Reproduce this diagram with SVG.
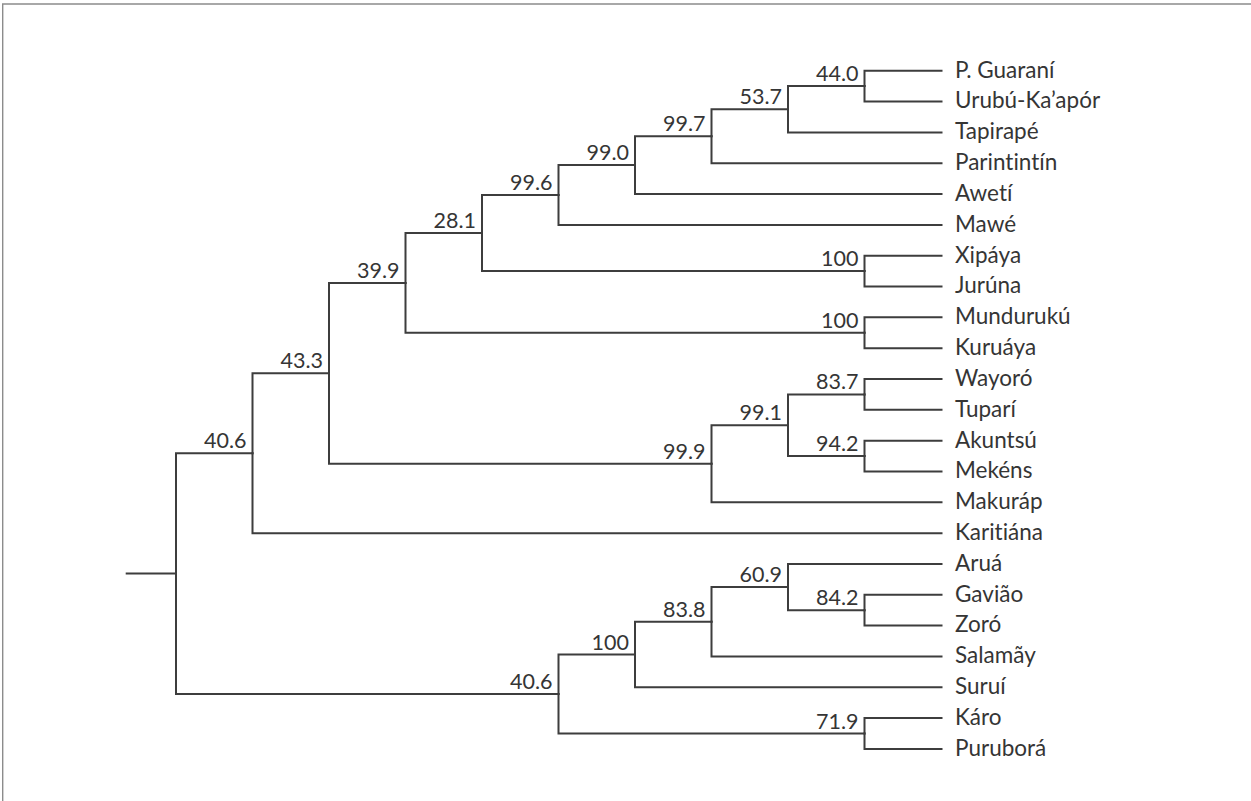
<svg xmlns="http://www.w3.org/2000/svg" width="1251" height="801" viewBox="0 0 1251 801">
<style>
.frame{fill:none;stroke:#8c8c8c;stroke-width:1.4}
.br{fill:none;stroke:#3d3d3d;stroke-width:2;stroke-linecap:square;stroke-linejoin:miter}
.lf{font-family:Lato,"Open Sans","Liberation Sans",sans-serif;font-size:22.5px;fill:#353535;font-variant-ligatures:none}
.bs{font-family:Lato,"Open Sans","Liberation Sans",sans-serif;font-size:21.5px;fill:#353535;text-anchor:end}
</style>
<rect width="1251" height="801" fill="#fff"/>
<path class="frame" d="M2.7 801V4H1251"/>
<g id="connectors" class="br">
<path d="M126.7 573.6H176"/>
<path d="M176 573.6V453.2H252.5"/>
<path d="M176 573.6V694H558.5"/>
<path d="M252.5 453.2V373.3H329"/>
<path d="M252.5 453.2V533.2H941.5"/>
<path d="M329 373.3V282.9H405.5"/>
<path d="M329 373.3V463.8H711.5"/>
<path d="M405.5 282.9V233.1H482"/>
<path d="M405.5 282.9V332.8H864.5"/>
<path d="M482 233.1V195H558.5"/>
<path d="M482 233.1V271.1H864.5"/>
<path d="M558.5 195V165.1H635"/>
<path d="M558.5 195V224.9H941.5"/>
<path d="M635 165.1V136.2H711.5"/>
<path d="M635 165.1V194H941.5"/>
<path d="M711.5 136.2V109.3H788"/>
<path d="M711.5 136.2V163.2H941.5"/>
<path d="M788 109.3V86.1H864.5"/>
<path d="M788 109.3V132.4H941.5"/>
<path d="M864.5 86.1V70.7H941.5"/>
<path d="M864.5 86.1V101.5H941.5"/>
<path d="M864.5 271.1V255.7H941.5"/>
<path d="M864.5 271.1V286.5H941.5"/>
<path d="M864.5 332.8V317.3H941.5"/>
<path d="M864.5 332.8V348.2H941.5"/>
<path d="M711.5 463.8V425.3H788"/>
<path d="M711.5 463.8V502.3H941.5"/>
<path d="M788 425.3V394.4H864.5"/>
<path d="M788 425.3V456.1H864.5"/>
<path d="M864.5 394.4V379H941.5"/>
<path d="M864.5 394.4V409.8H941.5"/>
<path d="M864.5 456.1V440.7H941.5"/>
<path d="M864.5 456.1V471.5H941.5"/>
<path d="M558.5 694V654.5H635"/>
<path d="M558.5 694V733.5H864.5"/>
<path d="M635 654.5V621.8H711.5"/>
<path d="M635 654.5V687.3H941.5"/>
<path d="M711.5 621.8V587.1H788"/>
<path d="M711.5 621.8V656.5H941.5"/>
<path d="M788 587.1V564H941.5"/>
<path d="M788 587.1V610.2H864.5"/>
<path d="M864.5 610.2V594.8H941.5"/>
<path d="M864.5 610.2V625.6H941.5"/>
<path d="M864.5 733.5V718.1H941.5"/>
<path d="M864.5 733.5V749H941.5"/>
</g>
<g id="n-K"><text class="bs" x="858.5" y="81.1">44.0</text></g>
<g id="n-J"><text class="bs" x="782" y="104.3">53.7</text></g>
<g id="n-I"><text class="bs" x="705.5" y="131.2">99.7</text></g>
<g id="n-H"><text class="bs" x="629" y="160.1">99.0</text></g>
<g id="n-G"><text class="bs" x="552.5" y="190">99.6</text></g>
<g id="n-F"><text class="bs" x="476" y="228.1">28.1</text></g>
<g id="n-D"><text class="bs" x="399.5" y="277.9">39.9</text></g>
<g id="n-C"><text class="bs" x="323" y="368.3">43.3</text></g>
<g id="n-A"><text class="bs" x="246.5" y="448.2">40.6</text></g>
<g id="n-XJ"><text class="bs" x="858.5" y="266.1">100</text></g>
<g id="n-MK"><text class="bs" x="858.5" y="327.8">100</text></g>
<g id="n-E"><text class="bs" x="705.5" y="458.8">99.9</text></g>
<g id="n-L"><text class="bs" x="782" y="420.3">99.1</text></g>
<g id="n-M"><text class="bs" x="858.5" y="389.4">83.7</text></g>
<g id="n-N"><text class="bs" x="858.5" y="451.1">94.2</text></g>
<g id="n-B"><text class="bs" x="552.5" y="689">40.6</text></g>
<g id="n-O"><text class="bs" x="629" y="649.5">100</text></g>
<g id="n-Q"><text class="bs" x="705.5" y="616.8">83.8</text></g>
<g id="n-R"><text class="bs" x="782" y="582.1">60.9</text></g>
<g id="n-S"><text class="bs" x="858.5" y="605.2">84.2</text></g>
<g id="n-P"><text class="bs" x="858.5" y="728.5">71.9</text></g>
<g id="leaf-pguarani"><text class="lf" x="955" y="77.5">P. Guaraní</text></g>
<g id="leaf-urubu"><text class="lf" x="955" y="108.3">Urubú-Ka’apór</text></g>
<g id="leaf-tapirape"><text class="lf" x="955" y="139.2">Tapirapé</text></g>
<g id="leaf-parintintin"><text class="lf" x="955" y="170">Parintintín</text></g>
<g id="leaf-aweti"><text class="lf" x="955" y="200.8">Awetí</text></g>
<g id="leaf-mawe"><text class="lf" x="955" y="231.7">Mawé</text></g>
<g id="leaf-xipaya"><text class="lf" x="955" y="262.5">Xipáya</text></g>
<g id="leaf-juruna"><text class="lf" x="955" y="293.3">Jurúna</text></g>
<g id="leaf-munduruku"><text class="lf" x="955" y="324.1">Mundurukú</text></g>
<g id="leaf-kuruaya"><text class="lf" x="955" y="355">Kuruáya</text></g>
<g id="leaf-wayoro"><text class="lf" x="955" y="385.8">Wayoró</text></g>
<g id="leaf-tupari"><text class="lf" x="955" y="416.6">Tuparí</text></g>
<g id="leaf-akuntsu"><text class="lf" x="955" y="447.5">Akuntsú</text></g>
<g id="leaf-mekens"><text class="lf" x="955" y="478.3">Mekéns</text></g>
<g id="leaf-makurap"><text class="lf" x="955" y="509.1">Makuráp</text></g>
<g id="leaf-karitiana"><text class="lf" x="955" y="540">Karitiána</text></g>
<g id="leaf-arua"><text class="lf" x="955" y="570.8">Aruá</text></g>
<g id="leaf-gaviao"><text class="lf" x="955" y="601.6">Gavião</text></g>
<g id="leaf-zoro"><text class="lf" x="955" y="632.4">Zoró</text></g>
<g id="leaf-salamay"><text class="lf" x="955" y="663.3">Salamãy</text></g>
<g id="leaf-surui"><text class="lf" x="955" y="694.1">Suruí</text></g>
<g id="leaf-karo"><text class="lf" x="955" y="724.9">Káro</text></g>
<g id="leaf-purubora"><text class="lf" x="955" y="755.8">Puruborá</text></g>
</svg>
